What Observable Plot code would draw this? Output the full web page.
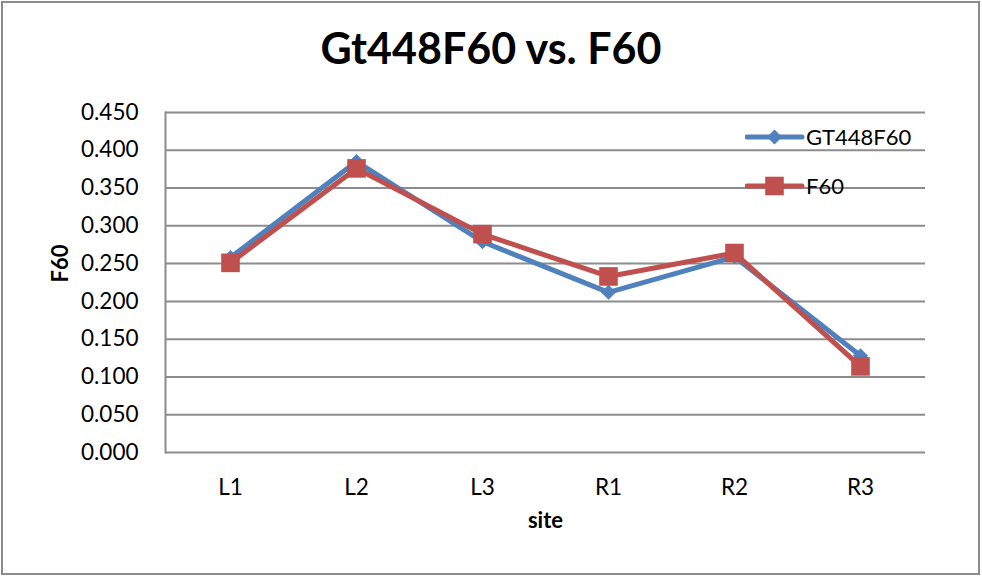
<!DOCTYPE html>
<html>
<head>
<meta charset="utf-8">
<script src="https://cdn.jsdelivr.net/npm/d3@7"></script>
<script src="https://cdn.jsdelivr.net/npm/@observablehq/plot@0.6"></script>
<style>
  html, body { margin: 0; padding: 0; background: #fff; }
  #wrap { position: relative; width: 982px; height: 577px; overflow: hidden; }
  #frame { position: absolute; left: 1px; top: 1px; width: 975px; height: 570px; border: 2px solid #8c8c8c; box-sizing: content-box; pointer-events: none; }
  #title { position: absolute; left: 0; width: 982px; top: 22px; text-align: center; font: bold 43px Lato, "Open Sans", sans-serif; color: #000; }
  #legend { position: absolute; left: 745px; top: 118px; font: 22px Lato, "Open Sans", sans-serif; }
  svg { font-family: Lato, "Open Sans", sans-serif; }
</style>
</head>
<body>
<div id="wrap">
  <div id="chart"></div>
  <div id="title"></div>
  <div id="legend"></div>
  <div id="frame"></div>
</div>
<script>
const chartTitle = "Gt448F60 vs. F60";
const sites = ["L1", "L2", "L3", "R1", "R2", "R3"];
const seriesNames = ["GT448F60", "F60"];
const gt448f60 = [0.258, 0.385, 0.279, 0.212, 0.259, 0.128];
const f60 = [0.251, 0.376, 0.289, 0.233, 0.264, 0.114];
const yTicks = [0, 0.05, 0.1, 0.15, 0.2, 0.25, 0.3, 0.35, 0.4, 0.45];
const colors = ["#4F81BD", "#C0504D"];
const xLabel = "site";
const yLabel = "F60";

const rowsA = sites.map((s, i) => ({site: s, value: gt448f60[i], series: seriesNames[0]}));
const rowsB = sites.map((s, i) => ({site: s, value: f60[i], series: seriesNames[1]}));

const chart = Plot.plot({
  width: 982,
  height: 577,
  marginLeft: 165,
  marginRight: 57,
  marginTop: 112,
  marginBottom: 125,
  style: {fontSize: "22px", fontFamily: "Lato, 'Open Sans', sans-serif", color: "#000"},
  x: {type: "point", domain: sites, padding: 0.5},
  y: {domain: [0, 0.45]},
  marks: [
    Plot.gridY(yTicks, {stroke: "#8c8c8c", strokeOpacity: 1, strokeWidth: 2}),
    Plot.frame({anchor: "left", stroke: "#8c8c8c", strokeWidth: 2}),
    Plot.axisY({ticks: yTicks, tickSize: 0, tickPadding: 27, tickFormat: d3.format(".3f"), label: null, fontSize: 22.5}),
    Plot.axisX({tickSize: 0, tickPadding: 27, label: null, fontSize: 22.5}),
    Plot.text([yLabel], {frameAnchor: "left", dx: -105, rotate: -90, fontWeight: "bold", fontSize: 22}),
    Plot.text([xLabel], {frameAnchor: "bottom", dy: 75, fontWeight: "bold", fontSize: 22}),
    Plot.line(rowsA, {x: "site", y: "value", stroke: colors[0], strokeWidth: 5}),
    Plot.dot(rowsA, {x: "site", y: "value", symbol: "diamond2", r: 6.8, fill: colors[0], stroke: "none"}),
    Plot.line(rowsB, {x: "site", y: "value", stroke: colors[1], strokeWidth: 5}),
    Plot.dot(rowsB, {x: "site", y: "value", symbol: "square", r: 10.5, fill: colors[1], stroke: "none"})
  ]
});
document.getElementById("chart").appendChild(chart);
document.getElementById("title").textContent = chartTitle;

// legend
const leg = d3.select("#legend").append("svg").attr("width", 200).attr("height", 90);
const symbols = [d3.symbolDiamond2, d3.symbolSquare];
const sizes = [145, 346];
seriesNames.forEach((name, i) => {
  const g = leg.append("g").attr("transform", `translate(0, ${19 + i * 49})`);
  g.append("line").attr("x1", 2).attr("x2", 57).attr("stroke", colors[i]).attr("stroke-width", 5).attr("stroke-linecap", "round");
  g.append("path").attr("d", d3.symbol(symbols[i], sizes[i])()).attr("transform", "translate(29.5,0)").attr("fill", colors[i]);
  g.append("text").attr("x", 61).attr("dy", "0.35em").attr("font-size", 22).text(name);
});
</script>
</body>
</html>
